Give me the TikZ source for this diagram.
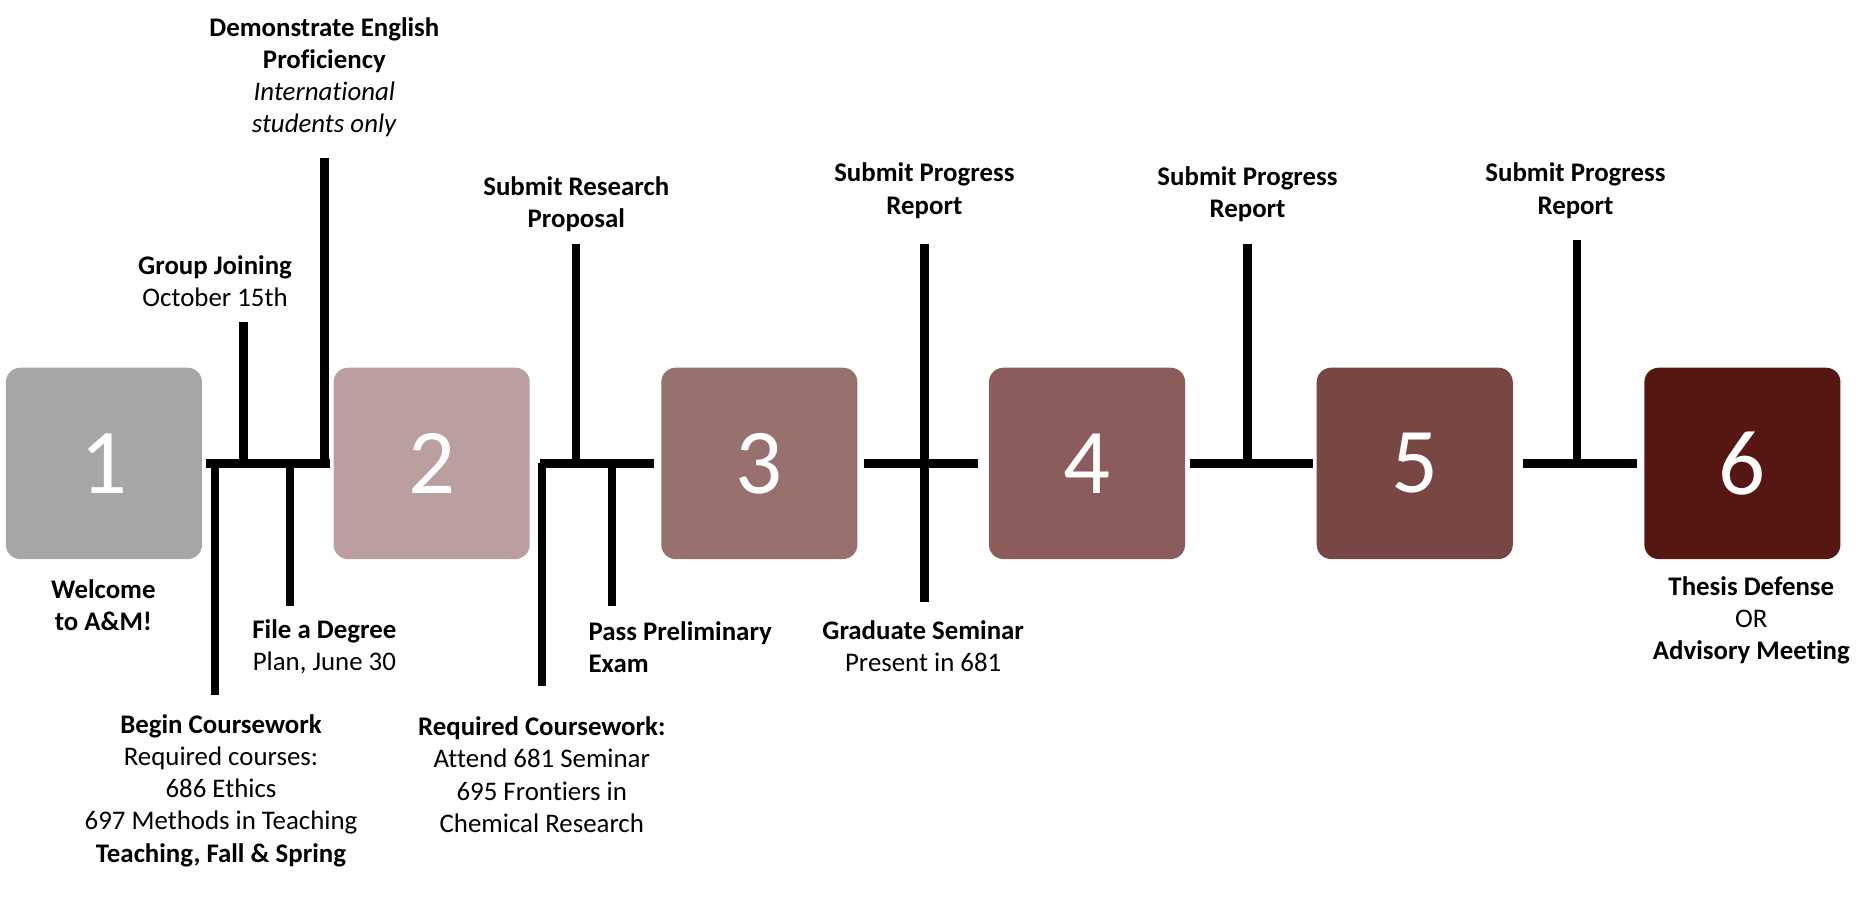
\documentclass[tikz,border=0pt]{standalone}
\usepackage{fontspec}
\setmainfont{Carlito}[Ligatures=NoCommon]
\usetikzlibrary{positioning}
\definecolor{stageone}{RGB}{166,166,166}
\definecolor{stagetwo}{RGB}{187,158,158}
\definecolor{stagethree}{RGB}{152,113,111}
\definecolor{stagefour}{RGB}{139,92,90}
\definecolor{stagefive}{RGB}{120,70,67}
\definecolor{stagesix}{RGB}{86,22,18}

\begin{document}
\begin{tikzpicture}[
      x=0.5pt, y=-0.5pt,
      stage/.style={rounded corners=6pt, minimum width=82.5pt, minimum height=80.5pt, inner sep=0pt, text=white, font=\fontsize{39}{41}\selectfont},
      mstext/.style={align=center, inner sep=0pt, font=\fontsize{11.3}{13.5}\selectfont},
      link/.style={line width=3.5pt}
    ]
      \useasboundingbox (0,0) rectangle (1568,758);

      % Stages
      \node[stage, fill=stageone] (s1) at (87.5, 390) {1};
      \node[stage, fill=stagetwo, right=55pt of s1] (s2) {2};
      \node[stage, fill=stagethree, right=55pt of s2] (s3) {3};
      \node[stage, fill=stagefour, right=55pt of s3] (s4) {4};
      \node[stage, fill=stagefive, right=55pt of s4] (s5) {5};
      \node[stage, fill=stagesix, right=55pt of s5] (s6) {6};

      % Milestone texts above the line
      \node[mstext] (english) at (273, 65) {\textbf{Demonstrate English}\\\textbf{Proficiency}\\\textit{International}\\\textit{students only}};
      \node[mstext] (joining) at (181, 236.5) {\textbf{Group Joining}\\October 15th};
      \node[mstext] (proposal) at (485, 171.5) {\textbf{Submit Research}\\\textbf{Proposal}};
      \node[mstext] (report1) at (778, 160.5) {\textbf{Submit Progress}\\\textbf{Report}};
      \node[mstext] (report2) at (1050, 163.5) {\textbf{Submit Progress}\\\textbf{Report}};
      \node[mstext] (report3) at (1326, 160.5) {\textbf{Submit Progress}\\\textbf{Report}};

      % Milestone texts below the line
      \node[mstext] (welcome) at (87, 509.5) {\textbf{Welcome}\\\textbf{to A\&M!}};
      \node[mstext] (degree) at (273, 544.5) {\textbf{File a Degree}\\Plan, June 30};
      \node[mstext] (coursework) at (186, 665.5) {\textbf{Begin Coursework}\\Required courses:\\686 Ethics\\697 Methods in Teaching\\\textbf{Teaching, Fall \& Spring}};
      \node[mstext, align=left, anchor=west] (prelim) at (495, 544.5) {\textbf{Pass Preliminary}\\\textbf{Exam}};
      \node[mstext] (required) at (456, 652) {\textbf{Required Coursework:}\\Attend 681 Seminar\\695 Frontiers in\\Chemical Research};
      \node[mstext] (seminar) at (777, 543.5) {\textbf{Graduate Seminar}\\Present in 681};
      \node[mstext] (defense) at (1474, 522) {\textbf{Thesis Defense}\\OR\\\textbf{Advisory Meeting}};

      % Tick ends
      \coordinate (joiningtop) at (205, 271);
      \coordinate (englishtop) at (273, 133);
      \coordinate (courseend) at (181, 585);
      \coordinate (degreeend) at (244, 510);
      \coordinate (proposaltop) at (485, 205);
      \coordinate (requiredend) at (456, 577);
      \coordinate (prelimend) at (515, 510);
      \coordinate (report1top) at (778, 205);
      \coordinate (seminarend) at (778, 507);
      \coordinate (report2top) at (1050, 205);
      \coordinate (report3top) at (1327, 202);

      % Connectors between stages
      \draw[link, shorten <=1.5pt, shorten >=1.5pt] (s1) -- (s2);
      \draw[link, shorten <=4pt, shorten >=3pt] (s2) -- (s3);
      \draw[link, shorten <=2.5pt, shorten >=4.5pt] (s3) -- (s4);
      \draw[link, shorten <=2pt, shorten >=1.5pt] (s4) -- (s5);
      \draw[link, shorten <=4pt, shorten >=3pt] (s5) -- (s6);

      % Ticks
      \draw[link] (joiningtop) -- (joiningtop |- s1.east);
      \draw[link] (englishtop) -- (englishtop |- s1.east);
      \draw[link] (courseend) -- (courseend |- s1.east);
      \draw[link] (degreeend) -- (degreeend |- s1.east);
      \draw[link] (proposaltop) -- (proposaltop |- s2.east);
      \draw[link] (requiredend) -- (requiredend |- s2.east);
      \draw[link] (prelimend) -- (prelimend |- s2.east);
      \draw[link] (report1top) -- (seminarend);
      \draw[link] (report2top) -- (report2top |- s4.east);
      \draw[link] (report3top) -- (report3top |- s5.east);
    \end{tikzpicture}
\end{document}
